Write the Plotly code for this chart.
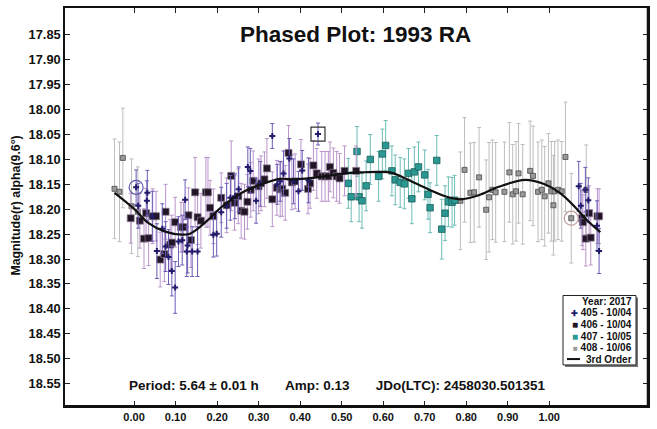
import plotly.graph_objects as go

# ---------------- data ----------------
s405_x = [0.005, 0.010, 0.031, 0.032, 0.044, 0.055, 0.068, 0.076, 0.083, 0.091, 0.099, 0.107, 0.116, 0.123,
          0.129, 0.127, 0.140, 0.153, 0.191, 0.199, 0.210, 0.223, 0.232, 0.243, 0.252, 0.274, 0.280, 0.294,
          0.304, 0.333, 0.345, 0.352, 0.360, 0.374, 0.384, 0.396, 0.405, 0.420, 0.443,
          1.071, 1.076, 1.087, 1.094, 1.115, 1.120]
s405_y = [18.156, 18.193, 18.183, 18.167, 18.214, 18.284, 18.239, 18.275, 18.296, 18.324, 18.357, 18.265, 18.262, 18.181,
          18.273, 18.285, 18.285, 18.285, 18.251, 18.249, 18.206, 18.193, 18.177, 18.174, 18.160, 18.115, 18.123, 18.183,
          18.149, 18.053, 18.150, 18.144, 18.128, 18.098, 18.144, 18.164, 18.122, 18.142, 18.049,
          18.154, 18.193, 18.161, 18.182, 18.233, 18.284]
s405_e = [0.035, 0.045, 0.040, 0.045, 0.050, 0.055, 0.050, 0.050, 0.055, 0.050, 0.052, 0.050, 0.050, 0.040,
          0.055, 0.050, 0.050, 0.050, 0.045, 0.045, 0.050, 0.045, 0.045, 0.045, 0.045, 0.040, 0.045, 0.045,
          0.045, 0.025, 0.040, 0.040, 0.045, 0.040, 0.045, 0.040, 0.040, 0.045, 0.022,
          0.050, 0.045, 0.045, 0.045, 0.050, 0.045]

s406_x = [-0.008, 0.014, 0.024, 0.029, 0.035, 0.045, 0.053, 0.063, 0.073, 0.076, 0.087, 0.091, 0.099, 0.113,
          0.119, 0.131, 0.137, 0.147, 0.153, 0.161, 0.173, 0.178, 0.183, 0.191, 0.210, 0.223, 0.234, 0.242,
          0.251, 0.258, 0.266, 0.273, 0.281, 0.287, 0.300, 0.306, 0.314, 0.320, 0.333, 0.344, 0.352, 0.357,
          0.364, 0.372, 0.380, 0.388, 0.402, 0.419, 0.424, 0.432, 0.440, 0.452, 0.460, 0.468, 0.472, 0.480,
          0.488, 0.495, 0.507, 0.535,
          1.079, 1.081, 1.088, 1.096, 1.100, 1.116, 1.120]
s406_y = [18.218, 18.223, 18.259, 18.208, 18.258, 18.214, 18.214, 18.301, 18.290, 18.205, 18.271, 18.267, 18.226, 18.236,
          18.236, 18.212, 18.262, 18.166, 18.216, 18.223, 18.166, 18.166, 18.197, 18.214, 18.177, 18.192, 18.133, 18.187,
          18.174, 18.203, 18.205, 18.185, 18.161, 18.143, 18.154, 18.148, 18.140, 18.118, 18.180, 18.157, 18.160, 18.159,
          18.167, 18.087, 18.146, 18.144, 18.110, 18.159, 18.148, 18.112, 18.128, 18.134, 18.134, 18.134, 18.115, 18.127,
          18.134, 18.138, 18.123, 18.123,
          18.218, 18.226, 18.259, 18.208, 18.257, 18.214, 18.214]
s406_e = [0.050, 0.055, 0.060, 0.050, 0.055, 0.055, 0.050, 0.055, 0.055, 0.055, 0.050, 0.055, 0.050, 0.050,
          0.050, 0.055, 0.055, 0.070, 0.055, 0.055, 0.070, 0.070, 0.055, 0.055, 0.050, 0.055, 0.070, 0.055,
          0.055, 0.055, 0.055, 0.055, 0.055, 0.060, 0.055, 0.055, 0.055, 0.060, 0.055, 0.055, 0.055, 0.055,
          0.055, 0.055, 0.055, 0.055, 0.050, 0.050, 0.050, 0.050, 0.050, 0.050, 0.050, 0.050, 0.050, 0.050,
          0.050, 0.050, 0.050, 0.050,
          0.055, 0.055, 0.055, 0.055, 0.055, 0.055, 0.055]

s407_x = [0.516, 0.523, 0.537, 0.542, 0.549, 0.559, 0.569, 0.589, 0.598, 0.606, 0.621, 0.629, 0.641, 0.651,
          0.661, 0.669, 0.675, 0.685, 0.700, 0.708, 0.713, 0.729, 0.741, 0.749, 0.757, 0.766, 0.772]
s407_y = [18.148, 18.175, 18.084, 18.175, 18.183, 18.153, 18.100, 18.134, 18.089, 18.072, 18.123, 18.141, 18.146, 18.149,
          18.128, 18.179, 18.125, 18.115, 18.131, 18.170, 18.197, 18.102, 18.240, 18.208, 18.185, 18.186, 18.182]
s407_e = [0.050, 0.050, 0.050, 0.050, 0.055, 0.050, 0.050, 0.050, 0.050, 0.050, 0.050, 0.050, 0.050, 0.050,
          0.050, 0.050, 0.050, 0.050, 0.050, 0.050, 0.050, 0.050, 0.060, 0.055, 0.050, 0.050, 0.050]

s408_x = [-0.047, -0.035, -0.027, -0.006, 0.009, 0.786, 0.796, 0.810, 0.819, 0.831, 0.848, 0.855, 0.863, 0.871,
          0.892, 0.904, 0.912, 0.920, 0.926, 0.936, 0.954, 0.961, 0.973, 0.982, 0.989, 0.998, 1.005, 1.010,
          1.013, 1.021, 1.030, 1.039, 1.053, 1.089]
s408_y = [18.159, 18.165, 18.097, 18.194, 18.205, 18.183, 18.121, 18.167, 18.166, 18.136, 18.201, 18.176, 18.161, 18.166,
          18.165, 18.126, 18.170, 18.164, 18.128, 18.170, 18.123, 18.133, 18.165, 18.161, 18.174, 18.148, 18.164, 18.192,
          18.164, 18.161, 18.164, 18.095, 18.218, 18.161]
s408_e = [0.100, 0.100, 0.100, 0.095, 0.090, 0.098, 0.105, 0.100, 0.100, 0.100, 0.100, 0.110, 0.100, 0.100,
          0.100, 0.100, 0.100, 0.100, 0.100, 0.100, 0.100, 0.100, 0.100, 0.100, 0.100, 0.100, 0.100, 0.100,
          0.100, 0.100, 0.100, 0.110, 0.090, 0.090]

fit_x = [-0.047, 0.000, 0.035, 0.075, 0.115, 0.135, 0.175, 0.207, 0.239, 0.271, 0.320, 0.352, 0.388, 0.430,
         0.468, 0.510, 0.549, 0.590, 0.621, 0.655, 0.701, 0.757, 0.786, 0.830, 0.878, 0.942, 0.986, 1.027,
         1.059, 1.091, 1.123]
fit_y = [18.167, 18.199, 18.228, 18.245, 18.251, 18.249, 18.224, 18.198, 18.178, 18.162, 18.146, 18.139, 18.140, 18.137,
         18.133, 18.128, 18.126, 18.125, 18.127, 18.139, 18.157, 18.176, 18.180, 18.172, 18.155, 18.141, 18.149, 18.168,
         18.193, 18.222, 18.246]

x_ticks = [0.0, 0.1, 0.2, 0.3, 0.4, 0.5, 0.6, 0.7, 0.8, 0.9, 1.0]
y_ticks = [17.85, 17.90, 17.95, 18.00, 18.05, 18.10, 18.15, 18.20, 18.25, 18.30, 18.35, 18.40, 18.45, 18.50, 18.55]

legend_rows = ["405 - 10/04", "406 - 10/04", "407 - 10/05", "408 - 10/06", "3rd Order"]
title_text = "Phased Plot: 1993 RA"
info_parts = ["Period: 5.64 ± 0.01 h", "Amp: 0.13", "JDo(LTC): 2458030.501351"]
ytitle = "Magnitude(r) alpha(9.6°)"

# ---------------- figure ----------------
FONT = "Liberation Sans, Arial, sans-serif"
fig = go.Figure()

def err(arr, color, w=1):
    return dict(type="data", array=arr, visible=True, color=color, thickness=w, width=2)

fig.add_trace(go.Scatter(x=s408_x, y=s408_y, mode="markers", error_y=err(s408_e, "#bdbdbd"),
                         marker=dict(symbol="square", size=5, color="#9a9a9a", line=dict(color="#4a4a4a", width=0.8)),
                         showlegend=False))
fig.add_trace(go.Scatter(x=s407_x, y=s407_y, mode="markers", error_y=err(s407_e, "#6dbcb7"),
                         marker=dict(symbol="square", size=6.5, color="#2a9893", line=dict(color="#1c5f5c", width=0.8)),
                         showlegend=False))
fig.add_trace(go.Scatter(x=s406_x, y=s406_y, mode="markers", error_y=err(s406_e, "#bb95cc"),
                         marker=dict(symbol="square", size=7, color="#211526", line=dict(color="#8a7a90", width=0.7)),
                         showlegend=False))
fig.add_trace(go.Scatter(x=s405_x, y=s405_y, mode="markers", error_y=err(s405_e, "#6a5db5"),
                         marker=dict(symbol="cross", size=5, color="#221a6a", line=dict(width=0)),
                         showlegend=False))
fig.add_trace(go.Scatter(x=fit_x, y=fit_y, mode="lines", line=dict(color="#111111", width=2.2, shape="spline"),
                         showlegend=False))
# highlighted points
fig.add_trace(go.Scatter(x=[s405_x[0]], y=[s405_y[0]], mode="markers",
                         marker=dict(symbol="circle-open", size=14, color="#5a5aa8", line=dict(width=1.2)),
                         showlegend=False))
fig.add_trace(go.Scatter(x=[s405_x[38]], y=[s405_y[38]], mode="markers",
                         marker=dict(symbol="square-open", size=14, color="#333333", line=dict(width=1.2)),
                         showlegend=False))
fig.add_trace(go.Scatter(x=[s408_x[32]], y=[s408_y[32]], mode="markers",
                         marker=dict(symbol="circle-open", size=14, color="#c09a9a", line=dict(width=1.2)),
                         showlegend=False))

L, R, T, B = 65, 648, 6, 413
W_, H_ = 657, 429
def px(xp): return (xp - L) / (R - L)
def py(yp): return (B - yp) / (B - T)

xfont = dict(family=FONT, size=11, color="#111111", weight="bold")
yfont = dict(family=FONT, size=12.8, color="#111111", weight="bold")
fig.update_xaxes(range=[-0.1663, 1.2378], tickvals=x_ticks, tickformat=".2f", ticks="inside", ticklen=5,
                 tickcolor="#222", showline=True, linecolor="#111", linewidth=1.6, mirror="ticks",
                 showgrid=False, zeroline=False, tickfont=xfont)
fig.update_yaxes(range=[18.595, 17.796], tickvals=y_ticks, tickformat=".2f", ticks="inside", ticklen=5,
                 tickcolor="#222", showline=True, linecolor="#111", linewidth=1.6, mirror="ticks",
                 showgrid=False, zeroline=False, tickfont=yfont)

def note(text, x, y, font, xanchor="center", angle=0):
    return dict(text=text, x=x, y=y, xref="paper", yref="paper", showarrow=False, xanchor=xanchor,
                yanchor="middle", textangle=angle, font=font)

ann = []
ann.append(note(title_text, px(355), py(33), dict(family=FONT, size=22.5, color="#111", weight="bold")))
gap = "&nbsp;" * 7
ann.append(note(gap.join(info_parts), px(337), py(392), dict(family=FONT, size=13.5, color="#111", weight="bold")))
ann.append(note(ytitle, px(16), py(208), dict(family=FONT, size=12.3, color="#111", weight="bold"), angle=-90))

# legend (manual)
shapes = [
    dict(type="rect", xref="paper", yref="paper", x0=px(565), x1=px(638), y0=py(373), y1=py(302),
         fillcolor="#777", line=dict(width=0)),
    dict(type="rect", xref="paper", yref="paper", x0=px(563), x1=px(636), y0=py(371), y1=py(300),
         fillcolor="white", line=dict(color="#222", width=1)),
    dict(type="line", xref="paper", yref="paper", x0=px(567), x1=px(580), y0=py(365), y1=py(365),
         line=dict(color="#111", width=2)),
    # heavier right and bottom frame edges
    dict(type="line", xref="paper", yref="paper", x0=1, x1=1, y0=0, y1=1, line=dict(color="#111", width=2.5)),
    dict(type="line", xref="paper", yref="paper", x0=0, x1=1, y0=0, y1=0, line=dict(color="#111", width=2.2)),
]
lf = dict(family=FONT, size=10, color="#111", weight="bold")
ann.append(note("Year: 2017", px(634), py(306), lf, xanchor="right"))
sym = ["<span style='color:#221a6a;font-size:8px'>✚</span>", "<span style='color:#211526'>■</span>",
       "<span style='color:#2a9893'>■</span>", "<span style='color:#9a9a9a;font-size:8px'>■</span>", ""]
rows_y = [317.5, 329.5, 341.5, 353, 365]
for i, name in enumerate(legend_rows):
    ann.append(note((sym[i] + " " if sym[i] else "") + name, px(634), py(rows_y[i]), lf, xanchor="right"))

fig.update_layout(width=W_, height=H_, margin=dict(l=L, r=W_ - R, t=T, b=H_ - B),
                  paper_bgcolor="white", plot_bgcolor="white", annotations=ann, shapes=shapes,
                  showlegend=False)
fig.write_html("out.html", config={"displayModeBar": False},
               post_script="document.body.style.margin='0';document.body.style.overflow='hidden';")
